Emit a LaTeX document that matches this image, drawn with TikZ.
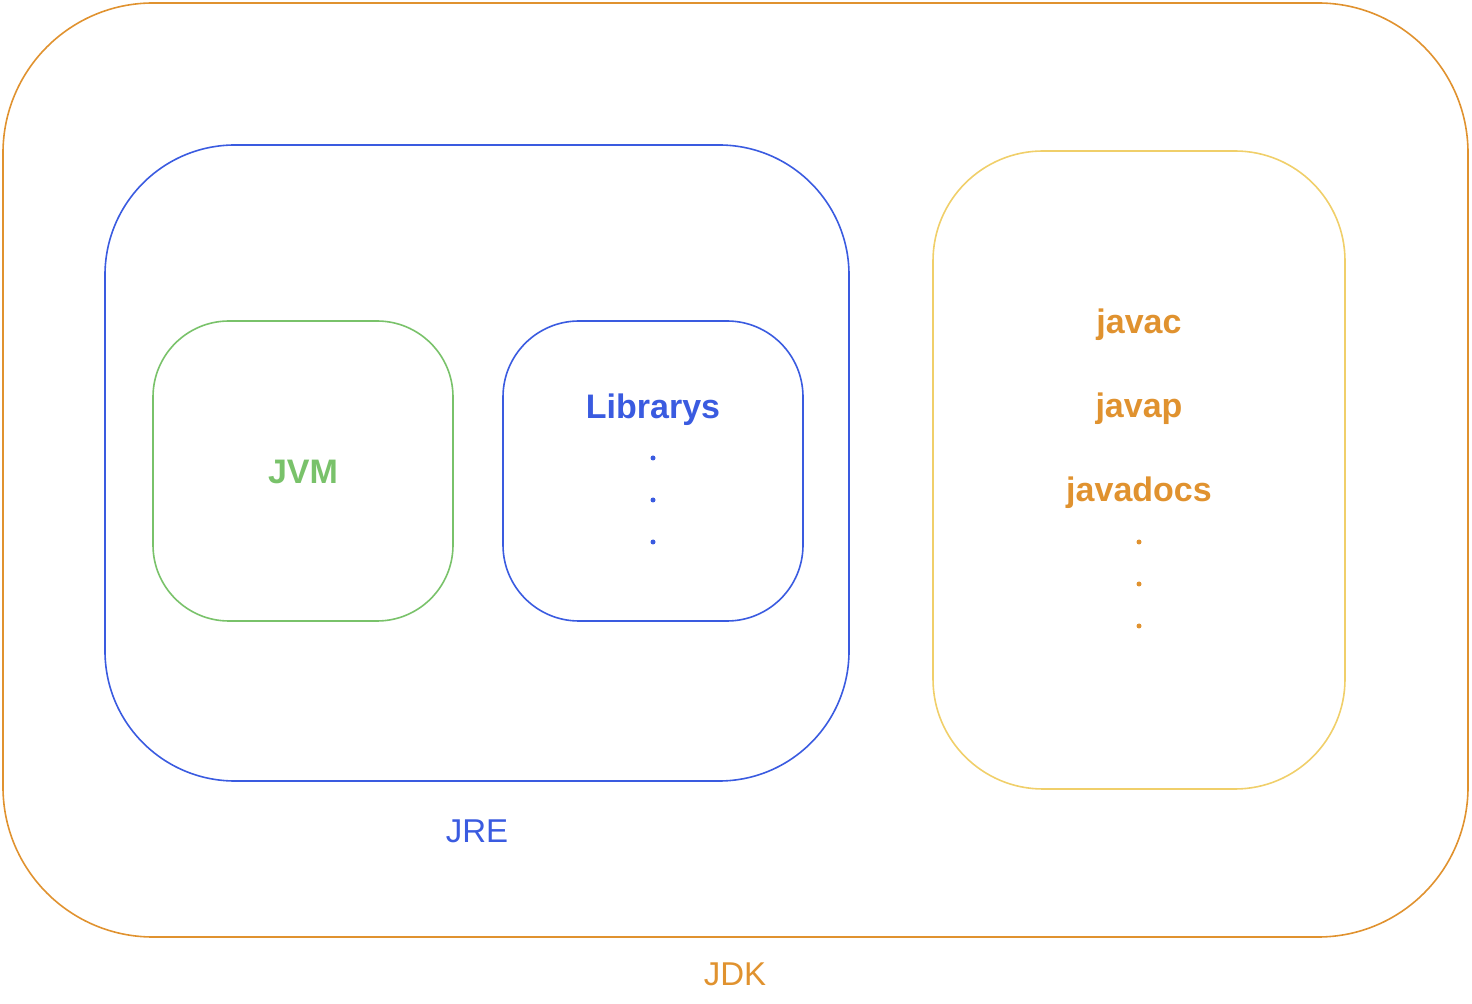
\documentclass[tikz,border=0pt]{standalone}
\usepackage{fontspec}
\setmainfont{Liberation Sans}
\begin{document}
\begin{tikzpicture}[x=0.5pt,y=-0.5pt,
  box/.style={line width=0.8pt},
  lbl/.style={font=\fontsize{16.5}{18}\selectfont},
  blbl/.style={font=\fontsize{17}{19}\selectfont\bfseries},
  dotmark/.style={fill, draw=none}]
\definecolor{cor}{HTML}{E0922F}
\definecolor{cbl}{HTML}{3A5BE0}
\definecolor{cgr}{HTML}{79C26A}
\definecolor{cye}{HTML}{F0CF6A}
\useasboundingbox (0,0) rectangle (1472,1004);
\draw[box,cor,rounded corners=75pt] (3,3) rectangle (1468,937);
\draw[box,cbl,rounded corners=65pt] (105,145) rectangle (849,781);
\draw[box,cgr,rounded corners=38pt] (153,321) rectangle (453,621);
\draw[box,cbl,rounded corners=38pt] (503,321) rectangle (803,621);
\draw[box,cye,rounded corners=55pt] (933,151) rectangle (1345,789);
\node[lbl,text=cor] (jdk) at (735,974) {JDK};
\node[lbl,text=cbl] (jre) at (477,831) {JRE};
\node[blbl,text=cgr] (jvm) at (303,472) {JVM};
\node[blbl,text=cbl] (lib) at (653,410) {Librarys};
\foreach \y in {458,500,542} \fill[cbl] (653,\y) circle (2.5);
\node[blbl,text=cor] (javac) at (1139,325) {javac};
\node[blbl,text=cor] (javap) at (1139,409) {javap};
\node[blbl,text=cor] (javadocs) at (1139,493) {javadocs};
\foreach \y in {542,584,626} \fill[cor] (1139,\y) circle (2.5);
\end{tikzpicture}
\end{document}
